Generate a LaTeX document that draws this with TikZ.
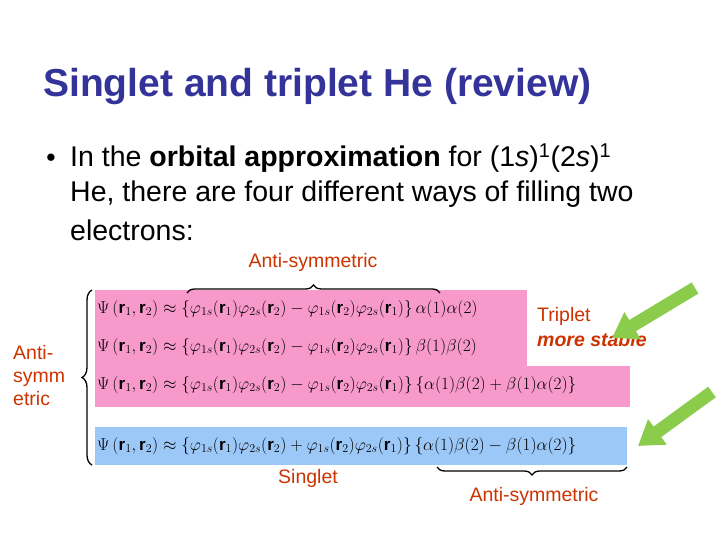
\documentclass[tikz,border=0pt]{standalone}
\usepackage{fontspec}
\setmainfont{Liberation Sans}
\usepackage{amsmath}
\usetikzlibrary{arrows.meta,decorations.pathreplacing}
\definecolor{ttl}{HTML}{333399}
\definecolor{pk}{HTML}{F79ACB}
\definecolor{bl}{HTML}{9CC8F8}
\definecolor{rd}{HTML}{CC3300}
\definecolor{gr}{HTML}{8CCC4C}
\tikzset{lbl/.style={text=rd,font=\fontsize{19.5}{22}\selectfont,inner sep=0pt},
 eq/.style={anchor=west,inner sep=0pt,font=\fontsize{17}{19}\selectfont},
 body/.style={anchor=west,inner sep=0pt,font=\fontsize{28.5}{30}\selectfont},
 brc/.style={decorate,decoration={brace,amplitude=8pt},line width=1.3pt},
 garrow/.style={draw=gr,line width=13pt,-{Triangle[width=30pt,length=24pt]},color=gr}}
\newcommand{\lhsx}{\Psi\left(\mathbf r_1,\mathbf r_2\right)\approx}
\begin{document}
\begin{tikzpicture}[x=1pt,y=-1pt]
\useasboundingbox (0,0) rectangle (720,540);
\node[anchor=west,inner sep=0pt,text=ttl,font=\fontsize{39}{42}\selectfont\bfseries] (title) at (43,87) {Singlet and triplet He (review)};
\node[inner sep=0pt,font=\fontsize{17}{17}\selectfont] (bul) at (51,158) {●};
\node[body] (l1) at (70,158) {In the \textbf{orbital approximation} for (1\textit{s})\textsuperscript{1}(2\textit{s})\textsuperscript{1}};
\node[body] (l2) at (70,194) {He, there are four different ways of filling two};
\node[body] (l3) at (70,230) {electrons:};
\fill[pk] (95,290) rectangle (527,366);
\fill[pk] (95,366) rectangle (630,407);
\fill[bl] (95,427) rectangle (627,465);
\node[eq] (e1) at (97,309) {$\lhsx\left\{\varphi_{1s}(\mathbf r_1)\varphi_{2s}(\mathbf r_2)-\varphi_{1s}(\mathbf r_2)\varphi_{2s}(\mathbf r_1)\right\}\alpha(1)\alpha(2)$};
\node[eq] (e2) at (97,347) {$\lhsx\left\{\varphi_{1s}(\mathbf r_1)\varphi_{2s}(\mathbf r_2)-\varphi_{1s}(\mathbf r_2)\varphi_{2s}(\mathbf r_1)\right\}\beta(1)\beta(2)$};
\node[eq] (e3) at (97,385) {$\lhsx\left\{\varphi_{1s}(\mathbf r_1)\varphi_{2s}(\mathbf r_2)-\varphi_{1s}(\mathbf r_2)\varphi_{2s}(\mathbf r_1)\right\}\left\{\alpha(1)\beta(2)+\beta(1)\alpha(2)\right\}$};
\node[eq] (e4) at (97,446) {$\lhsx\left\{\varphi_{1s}(\mathbf r_1)\varphi_{2s}(\mathbf r_2)+\varphi_{1s}(\mathbf r_2)\varphi_{2s}(\mathbf r_1)\right\}\left\{\alpha(1)\beta(2)-\beta(1)\alpha(2)\right\}$};
\coordinate (tb1) at (187,293); \coordinate (tb2) at (440,293);
\draw[brc] (tb1) -- (tb2);
\coordinate (lb1) at (92,465); \coordinate (lb2) at (92,290);
\draw[brc,decoration={amplitude=10pt}] (lb1) -- (lb2);
\coordinate (bb1) at (627,467); \coordinate (bb2) at (437,467);
\draw[brc] (bb1) -- (bb2);
\node[lbl] (as1) at (313,262) {Anti-symmetric};
\node[lbl] (as2) at (534,496) {Anti-symmetric};
\node[lbl] (sg) at (308,478) {Singlet};
\node[lbl,anchor=west] (tr) at (537,316) {Triplet};
\node[lbl,anchor=west,font=\fontsize{19.5}{22}\selectfont\bfseries\itshape] (ms) at (537,340) {more stable};
\node[lbl,anchor=west,align=left,font=\fontsize{19.5}{23}\selectfont] (as3) at (13,376) {Anti-\\symm\\etric};
\coordinate (g1a) at (695,288); \coordinate (g1b) at (612,338);
\coordinate (g2a) at (712,392); \coordinate (g2b) at (638,446);
\draw[garrow] (g1a) -- (g1b);
\draw[garrow] (g2a) -- (g2b);
\end{tikzpicture}
\end{document}
